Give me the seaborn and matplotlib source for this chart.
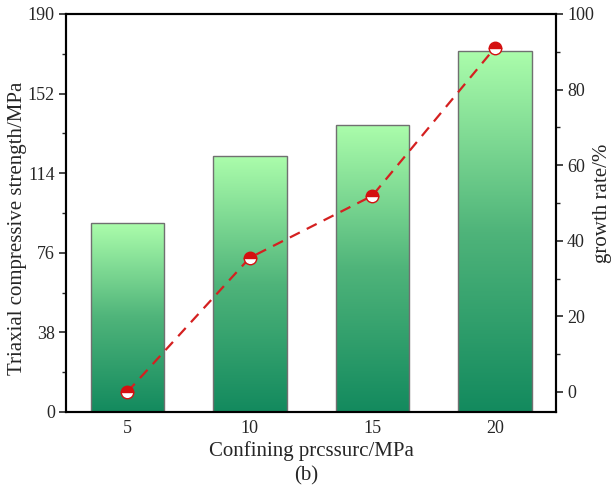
import numpy as np
import pandas as pd
import matplotlib
matplotlib.use("Agg")
import matplotlib.pyplot as plt
import seaborn as sns
from matplotlib.colors import LinearSegmentedColormap
from matplotlib.ticker import MultipleLocator

pressures = ["5", "10", "15", "20"]
strength = [90.2, 122.2, 137.0, 172.3]
growth = [0.0, 35.5, 51.9, 91.0]

sns.set_theme(style="white")
plt.rcParams['font.family'] = ['Liberation Serif', 'DejaVu Serif']
plt.rcParams['mathtext.fontset'] = 'stix'

fig = plt.figure(figsize=(6.12, 4.93), dpi=100)
ax = fig.add_axes([66/612, 1-412/493, 490/612, 398/493])

df = pd.DataFrame({"p": pressures, "s": strength})
sns.barplot(data=df, x="p", y="s", ax=ax, width=0.6, color="#aaffaa",
            edgecolor="#707070", linewidth=1.0)

cmap = LinearSegmentedColormap.from_list("g", ["#138a5e", "#4fb47a", "#abfdab"])
grad = np.linspace(0, 1, 256).reshape(-1, 1)
for patch in list(ax.patches):
    bb = patch.get_bbox()
    im = ax.imshow(grad, cmap=cmap, aspect="auto", origin="lower",
                   extent=[bb.x0, bb.x1, bb.y0, bb.y1], zorder=patch.get_zorder() + 0.1)
    im.set_clip_path(patch)
    patch.set_facecolor("none")
    patch.set_zorder(patch.get_zorder() + 0.2)

ax.set_xlim(-0.5, 3.5)
ax.set_ylim(0, 190)
ax.yaxis.set_major_locator(MultipleLocator(38))
ax.yaxis.set_minor_locator(MultipleLocator(19))
ax.set_xlabel("Confining prcssurc/MPa", fontsize=15, labelpad=3)
ax.set_ylabel("Triaxial compressive strength/MPa", fontsize=15)
ax.yaxis.label.set_va("center")
ax.yaxis.label.set_ha("center")
ax.yaxis.set_label_coords((18 - 66) / 490, (412 - 228) / 398)
ax.tick_params(axis="y", which="major", direction="out", length=5, width=1.2, labelsize=13, left=True, pad=3)
ax.tick_params(axis="y", which="minor", direction="out", length=3, width=1.0, left=True)
ax.tick_params(axis="x", which="major", length=0, labelsize=13, pad=6)
for sp in ax.spines.values():
    sp.set_color("black")
    sp.set_linewidth(1.5)

ax2 = ax.twinx()
x = np.arange(len(growth))
ax2.plot(x, growth, linestyle=(0, (5, 3.5)), color="#d42020", linewidth=1.6,
         marker="o", markersize=9, fillstyle="top", markerfacecolor="#d41010",
         markerfacecoloralt="white", markeredgecolor="#d41010", markeredgewidth=1.0,
         zorder=5)
ax2.set_ylim(-5.3, 100)
ax2.yaxis.set_major_locator(MultipleLocator(20))
ax2.yaxis.set_minor_locator(MultipleLocator(10))
ax2.set_ylabel("growth rate/%", fontsize=15)
ax2.yaxis.label.set_va("center")
ax2.yaxis.label.set_ha("center")
ax2.yaxis.set_label_coords((602 - 66) / 490, (412 - 203) / 398)
ax2.tick_params(axis="y", which="major", direction="out", length=5, width=1.2, labelsize=13, right=True, pad=3)
ax2.tick_params(axis="y", which="minor", direction="out", length=3, width=1.0, right=True)
for sp in ax2.spines.values():
    sp.set_color("black")
    sp.set_linewidth(1.5)

fig.text(306/612, 1-476/493, "(b)", ha="center", va="center", fontsize=15)

fig.savefig("out.png", dpi=100)
